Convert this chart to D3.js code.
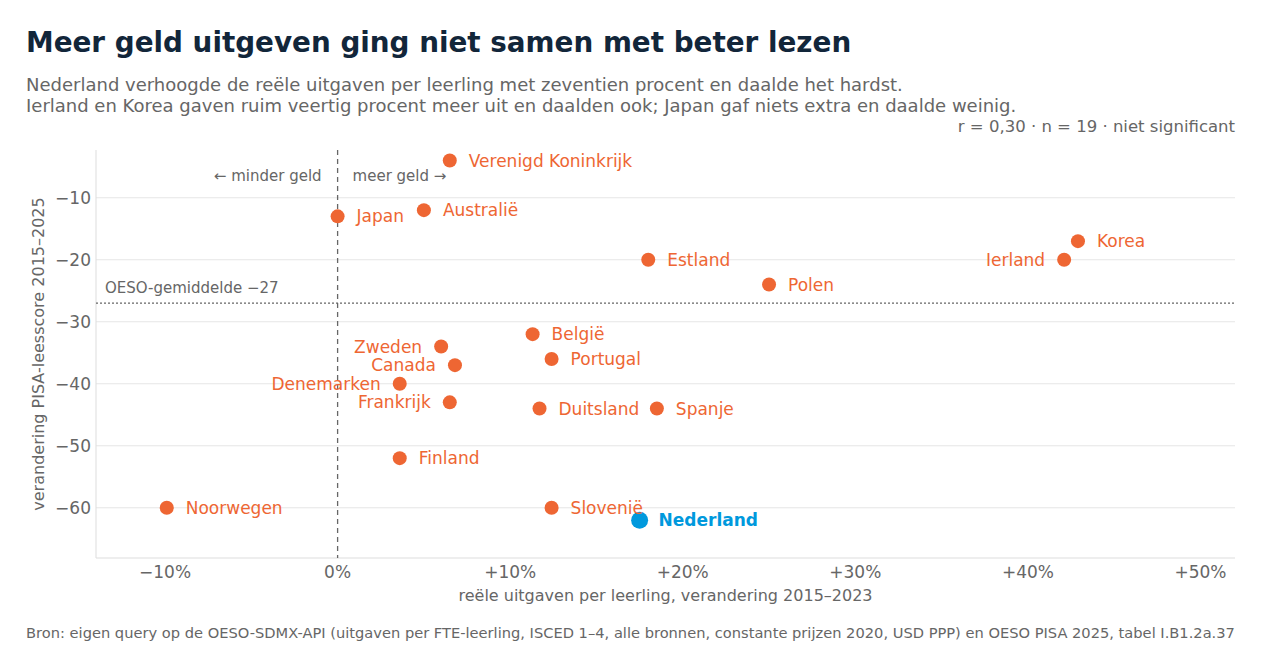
<!DOCTYPE html>
<html><head><meta charset="utf-8">
<script src="https://cdn.jsdelivr.net/npm/d3@7"></script>
<style>body{margin:0;background:#fff;font-family:"DejaVu Sans",sans-serif}</style>
</head><body><svg id="c" width="1280" height="660"></svg>
<script>
const countries = ['Verenigd Koninkrijk','Japan','Australië','Estland','Polen','Korea','Ierland','België','Zweden','Portugal','Canada','Denemarken','Frankrijk','Duitsland','Spanje','Finland','Noorwegen','Slovenië','Nederland']
const spending = [6.5,0,5.0,18.0,25.0,42.9,42.1,11.3,6.0,12.4,6.8,3.6,6.5,11.7,18.5,3.6,-9.9,12.4,17.5]
const pisa = [-4,-13,-12,-20,-24,-17,-20,-32,-34,-36,-37,-40,-43,-44,-44,-52,-60,-60,-62]
const labelLeft = ['Ierland','Zweden','Canada','Denemarken','Frankrijk']
const xTicks = [-10,0,10,20,30,40,50]
const yTicks = [-10,-20,-30,-40,-50,-60]
const oecdAvg = -27

const svg = d3.select('#c')
const m = {left:96, right:1235, top:150, bottom:558}
const x = d3.scaleLinear().domain([-14,52]).range([m.left,m.right])
const y = d3.scaleLinear().domain([-2.3,-68.1]).range([m.top,m.bottom])
const grey = '#666'
const orange = '#ee6633'
const blue = '#0099dd'

svg.append('text').attr('x',26).attr('y',52).attr('font-size',27.8).attr('font-weight','bold').attr('fill','#12263a')
  .text('Meer geld uitgeven ging niet samen met beter lezen')
svg.append('text').attr('x',26).attr('y',91).attr('font-size',18).attr('fill',grey)
  .text('Nederland verhoogde de reële uitgaven per leerling met zeventien procent en daalde het hardst.')
svg.append('text').attr('x',26).attr('y',112).attr('font-size',18).attr('fill',grey)
  .text('Ierland en Korea gaven ruim veertig procent meer uit en daalden ook; Japan gaf niets extra en daalde weinig.')
svg.append('text').attr('x',1235).attr('y',132).attr('font-size',16.5).attr('fill',grey).attr('text-anchor','end')
  .text('r = 0,30 · n = 19 · niet significant')

const g = svg.append('g')
g.selectAll('.grid').data(yTicks).enter().append('line')
  .attr('x1',m.left).attr('x2',m.right).attr('y1',d=>y(d)).attr('y2',d=>y(d)).attr('stroke','#e6e6e6')
g.append('line').attr('x1',m.left).attr('x2',m.right).attr('y1',m.bottom).attr('y2',m.bottom).attr('stroke','#ddd')
g.append('line').attr('x1',m.left).attr('x2',m.left).attr('y1',m.top).attr('y2',m.bottom).attr('stroke','#ddd')

g.selectAll('.xt').data(xTicks).enter().append('text')
  .attr('x',d=>x(d)).attr('y',m.bottom+20).attr('text-anchor','middle').attr('font-size',17).attr('fill',grey)
  .text(d=>d<0?'−'+Math.abs(d)+'%':(d>0?'+'+d+'%':'0%'))
g.selectAll('.yt').data(yTicks).enter().append('text')
  .attr('x',m.left-5).attr('y',d=>y(d)+6).attr('text-anchor','end').attr('font-size',17).attr('fill',grey)
  .text(d=>'−'+Math.abs(d))

svg.append('text').attr('x',(m.left+m.right)/2).attr('y',601).attr('text-anchor','middle').attr('font-size',16).attr('fill',grey)
  .text('reële uitgaven per leerling, verandering 2015–2023')
svg.append('text').attr('transform',`translate(44,${(m.top+m.bottom)/2}) rotate(-90)`).attr('text-anchor','middle').attr('font-size',16).attr('fill',grey)
  .text('verandering PISA-leesscore 2015–2025')

g.append('line').attr('x1',x(0)).attr('x2',x(0)).attr('y1',m.top).attr('y2',m.bottom).attr('stroke',grey).attr('stroke-dasharray','5,4').attr('stroke-width',1.3)
g.append('line').attr('x1',m.left).attr('x2',m.right).attr('y1',y(oecdAvg)).attr('y2',y(oecdAvg)).attr('stroke',grey).attr('stroke-dasharray','2,2').attr('stroke-width',1.3)
g.append('text').attr('x',m.left+9).attr('y',y(oecdAvg)-10).attr('font-size',15).attr('fill',grey).text('OESO-gemiddelde −27')
g.append('text').attr('x',x(0)-16).attr('y',181).attr('text-anchor','end').attr('font-size',15).attr('fill',grey).text('← minder geld')
g.append('text').attr('x',x(0)+15).attr('y',181).attr('font-size',15).attr('fill',grey).text('meer geld →')

const data = countries.map((c,i)=>({c, sx:spending[i], py:pisa[i]}))
g.selectAll('.pt').data(data).enter().append('circle')
  .attr('cx',d=>x(d.sx)).attr('cy',d=>y(d.py)).attr('r',d=>d.c==='Nederland'?8.5:7)
  .attr('fill',d=>d.c==='Nederland'?blue:orange)
g.selectAll('.lb').data(data).enter().append('text')
  .attr('x',d=>labelLeft.includes(d.c)?x(d.sx)-19:x(d.sx)+19)
  .attr('y',d=>y(d.py)+6).attr('font-size',17)
  .attr('text-anchor',d=>labelLeft.includes(d.c)?'end':'start')
  .attr('font-weight',d=>d.c==='Nederland'?'bold':'normal')
  .attr('fill',d=>d.c==='Nederland'?blue:orange).text(d=>d.c)

svg.append('text').attr('x',26).attr('y',638).attr('font-size',14.65).attr('fill',grey)
  .text('Bron: eigen query op de OESO-SDMX-API (uitgaven per FTE-leerling, ISCED 1–4, alle bronnen, constante prijzen 2020, USD PPP) en OESO PISA 2025, tabel I.B1.2a.37')
</script></body></html>
